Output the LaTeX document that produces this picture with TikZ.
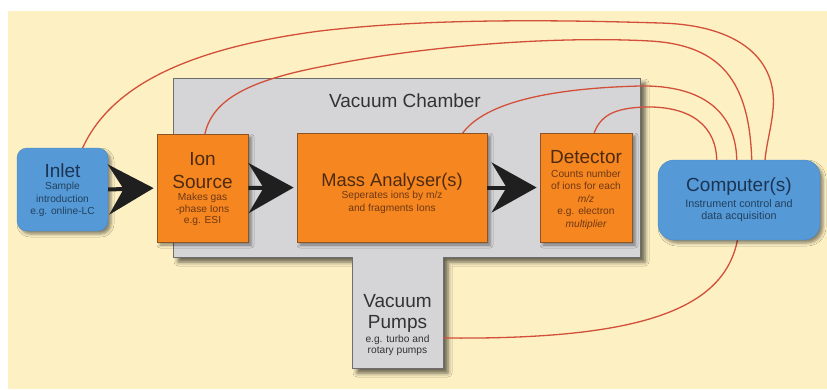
\documentclass[tikz,border=0pt]{standalone}
\usepackage{fontspec}
\setmainfont{Liberation Sans}
\usetikzlibrary{arrows.meta,calc,shadows.blur,backgrounds}

\definecolor{cream}{HTML}{FDF0C3}
\definecolor{chamberfill}{HTML}{D5D5D7}
\definecolor{chamberedge}{HTML}{6E6E6E}
\definecolor{orangefill}{HTML}{F6861F}
\definecolor{orangeedge}{HTML}{8A5426}
\definecolor{orangetitle}{HTML}{4E2A10}
\definecolor{orangetext}{HTML}{6E3814}
\definecolor{bluefill}{HTML}{5599D6}
\definecolor{blueedge}{HTML}{4A86BE}
\definecolor{bluetitle}{HTML}{1B3454}
\definecolor{bluetext}{HTML}{22415F}
\definecolor{greytext}{HTML}{333333}
\definecolor{wirered}{HTML}{D2503A}
\definecolor{arrowdark}{HTML}{1F1F1F}

\begin{document}
\begin{tikzpicture}[x=1pt,y=-1pt,
  softshadow/.style={blur shadow={shadow xshift=3pt, shadow yshift=-3pt,
      shadow blur radius=3pt, shadow opacity=45}},
  orangebox/.style={draw=orangeedge, line width=0.8pt, fill=orangefill,
      inner sep=0pt, softshadow},
  bluebox/.style={draw=blueedge, line width=0.4pt, fill=bluefill,
      inner sep=0pt, softshadow},
  title/.style={anchor=base, inner sep=0pt, font=\fontsize{19}{22}\selectfont},
  sub/.style={anchor=base, inner sep=0pt, font=\fontsize{10.2}{12}\selectfont},
  wire/.style={draw=wirered, line width=1.3pt},
  bigarrow/.style={draw=arrowdark, line width=4pt, shorten >=3pt,
      -{Stealth[length=45pt, width=50pt, inset=15pt]}}
]
\useasboundingbox (0,0) rectangle (827,389);

% component boxes
\node[bluebox, rounded corners=10pt, minimum width=91pt, minimum height=83pt]
  (inlet) at (62.5,189.5) {};
\node[orangebox, minimum width=91pt, minimum height=108pt] (ion) at (202.5,188) {};
\node[orangebox, minimum width=190pt, minimum height=109pt] (mass) at (392,187.5) {};
\node[orangebox, minimum width=92pt, minimum height=109pt] (det) at (586,187.5) {};
\node[bluebox, rounded corners=16pt, minimum width=162pt, minimum height=80pt]
  (comp) at (739,200) {};

% cable end points
\coordinate (w1a) at ($(inlet.north west)+(65,2)$);
\coordinate (w2a) at ($(ion.north west)+(48,2)$);
\coordinate (w3a) at ($(mass.north west)+(165,2)$);
\coordinate (w4a) at ($(det.north west)+(54,2)$);
\coordinate (w5a) at ($(comp.south west)+(80,-2)$);
\coordinate (c4) at ($(comp.north west)+(59,3)$);
\coordinate (c3) at ($(comp.north west)+(79,3)$);
\coordinate (c2) at ($(comp.north west)+(94,3)$);
\coordinate (c1) at ($(comp.north west)+(107,3)$);
\coordinate (pumpE) at (443,338);

\begin{scope}[on background layer]
  \fill[white] (0,0) rectangle (827,389);
  \fill[cream] (8,11) rectangle (827,389);
  % vacuum chamber with the pump stem below it
  \fill[chamberfill, draw=chamberedge, line width=0.9pt,
        blur shadow={shadow xshift=5pt, shadow yshift=-5pt,
        shadow blur radius=4pt, shadow opacity=60}]
    (173,78) -- (640,78) -- (640,257) -- (443,257) -- (443,368)
    -- (352,368) -- (352,257) -- (173,257) -- cycle;
  % cables to the computer
  \draw[wire] (w1a) .. controls (110,85) and (190,48) .. (320,31)
    .. controls (430,18) and (560,20) .. (660,23)
    .. controls (740,25) and (778,60) .. (773,110)
    .. controls (771,130) and (766,145) .. (c1);
  \draw[wire] (w2a) .. controls (212,95) and (260,78) .. (330,65)
    .. controls (430,45) and (560,36) .. (650,41)
    .. controls (720,45) and (750,80) .. (c2);
  \draw[wire] (w3a) .. controls (485,100) and (560,88) .. (640,86)
    .. controls (700,85) and (737,110) .. (c3);
  \draw[wire] (w4a) .. controls (600,115) and (615,108) .. (645,107)
    .. controls (690,106) and (717,125) .. (c4);
  \draw[wire] (w5a) .. controls (725,310) and (640,340) .. (pumpE);
\end{scope}

\node[title, text=greytext] (chamberT) at (405,107) {Vacuum Chamber};

% flow arrows
\draw[bigarrow] (inlet.east) -- (ion.west);
\draw[bigarrow] (ion.east) -- (mass.west);
\draw[bigarrow] (mass.east) -- (det.west);

% Inlet
\node[title, text=bluetitle] (inletT) at (62.5,177) {Inlet};
\node[sub, text=bluetext] (inlet1) at (62.5,189.5) {Sample};
\node[sub, text=bluetext] (inlet2) at (62.5,202) {introduction};
\node[sub, text=bluetext] (inlet3) at (62.5,214.5) {e.g. online-LC};

% Ion source
\node[title, text=orangetitle] (ionT1) at (202.5,165) {Ion};
\node[title, text=orangetitle] (ionT2) at (202.5,188) {Source};
\node[sub, text=orangetext] (ion1) at (202.5,200.5) {Makes gas};
\node[sub, text=orangetext] (ion2) at (202.5,212) {-phase Ions};
\node[sub, text=orangetext] (ion3) at (202.5,223.5) {e.g. ESI};

% Mass analyser
\node[title, text=orangetitle, font=\fontsize{18.3}{22}\selectfont]
  (massT) at (392,186.5) {Mass Analyser(s)};
\node[sub, text=orangetext] (mass1) at (392,198.5) {Seperates ions by m/z};
\node[sub, text=orangetext] (mass2) at (392,211) {and fragments Ions};

% Detector
\node[title, text=orangetitle] (detT) at (586,163) {Detector};
\node[sub, text=orangetext] (det1) at (586,177) {Counts number};
\node[sub, text=orangetext] (det2) at (586,189.5) {of ions for each};
\node[sub, text=orangetext] (det3) at (586,202) {\itshape m/z};
\node[sub, text=orangetext] (det4) at (586,214.5) {e.g. electron};
\node[sub, text=orangetext] (det5) at (586,227) {\itshape multiplier};

% Computer
\node[title, text=bluetitle] (compT) at (739,191.5) {Computer(s)};
\node[sub, text=bluetext, font=\fontsize{10.8}{12}\selectfont]
  (comp1) at (739,207) {Instrument control and};
\node[sub, text=bluetext, font=\fontsize{10.8}{12}\selectfont]
  (comp2) at (739,219) {data acquisition};

% Vacuum pumps
\node[title, text=greytext] (pumpT1) at (397.5,307) {Vacuum};
\node[title, text=greytext] (pumpT2) at (397.5,328) {Pumps};
\node[sub, text=greytext] (pump1) at (397.5,342) {e.g. turbo and};
\node[sub, text=greytext] (pump2) at (397.5,353.5) {rotary pumps};
\end{tikzpicture}
\end{document}
